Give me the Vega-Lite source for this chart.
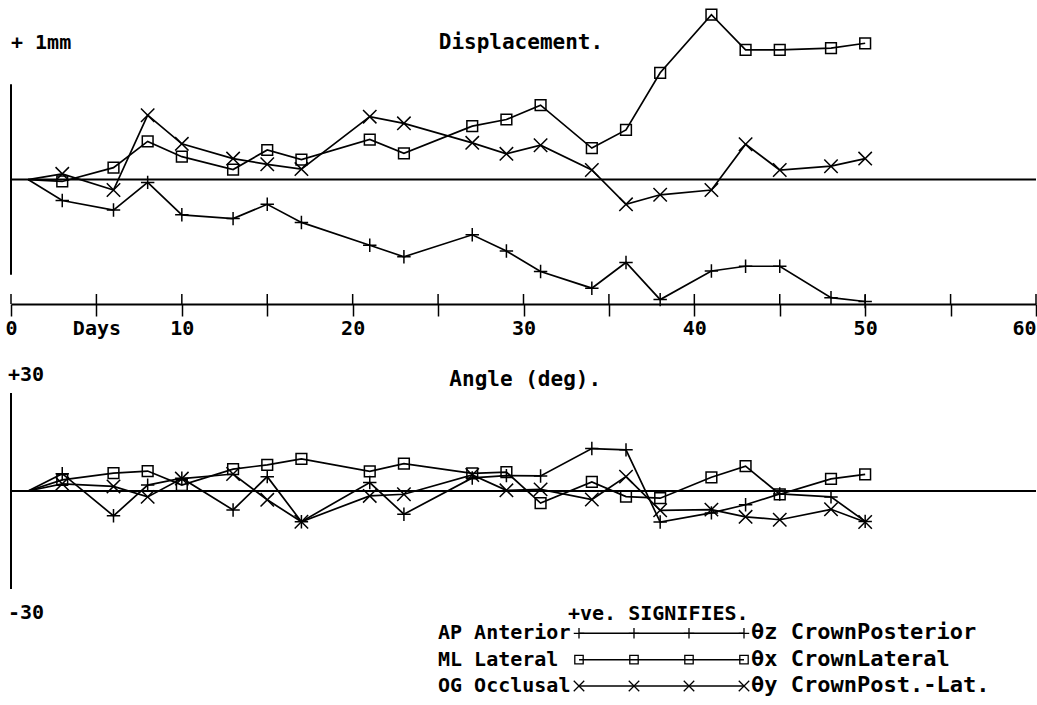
{
  "$schema": "https://vega.github.io/schema/vega-lite/v6.json",
  "background": "white",
  "padding": {"left": 4, "top": 4, "right": 0, "bottom": 5},
  "bounds": "flush",
  "spacing": 89,
  "config": {
    "view": {"stroke": null},
    "text": {"font": "DejaVu Sans Mono", "fontSize": 20, "fontWeight": "bold", "color": "black"}
  },
  "datasets": {
    "disp": [
      {"day": 1, "AP": 0, "ML": 0, "OG": 0},
      {"day": 3, "AP": -0.22, "ML": -0.02, "OG": 0.06},
      {"day": 6, "AP": -0.32, "ML": 0.125, "OG": -0.11},
      {"day": 8, "AP": -0.03, "ML": 0.40, "OG": 0.675},
      {"day": 10, "AP": -0.37, "ML": 0.24, "OG": 0.375},
      {"day": 13, "AP": -0.41, "ML": 0.105, "OG": 0.22},
      {"day": 15, "AP": -0.26, "ML": 0.31, "OG": 0.16},
      {"day": 17, "AP": -0.45, "ML": 0.21, "OG": 0.11},
      {"day": 21, "AP": -0.69, "ML": 0.42, "OG": 0.66},
      {"day": 23, "AP": -0.81, "ML": 0.275, "OG": 0.59},
      {"day": 27, "AP": -0.58, "ML": 0.56, "OG": 0.385},
      {"day": 29, "AP": -0.75, "ML": 0.63, "OG": 0.27},
      {"day": 31, "AP": -0.965, "ML": 0.78, "OG": 0.36},
      {"day": 34, "AP": -1.14, "ML": 0.33, "OG": 0.10},
      {"day": 36, "AP": -0.87, "ML": 0.52, "OG": -0.26},
      {"day": 38, "AP": -1.26, "ML": 1.12, "OG": -0.16},
      {"day": 41, "AP": -0.96, "ML": 1.73, "OG": -0.11},
      {"day": 43, "AP": -0.91, "ML": 1.36, "OG": 0.37},
      {"day": 45, "AP": -0.91, "ML": 1.36, "OG": 0.10},
      {"day": 48, "AP": -1.24, "ML": 1.38, "OG": 0.14},
      {"day": 50, "AP": -1.28, "ML": 1.43, "OG": 0.22}
    ],
    "angle": [
      {"day": 1, "AP": 0, "ML": 0, "OG": 0},
      {"day": 3, "AP": 5.3, "ML": 3.4, "OG": 2.2},
      {"day": 6, "AP": -7.6, "ML": 5.5, "OG": 1.4},
      {"day": 8, "AP": 1.8, "ML": 6.1, "OG": -1.8},
      {"day": 10, "AP": 3.9, "ML": 1.8, "OG": 3.8},
      {"day": 13, "AP": -5.8, "ML": 6.7, "OG": 5.2},
      {"day": 15, "AP": 4.4, "ML": 8.0, "OG": -2.7},
      {"day": 17, "AP": -9.4, "ML": 9.8, "OG": -9.4},
      {"day": 21, "AP": 2.6, "ML": 6.0, "OG": -1.5},
      {"day": 23, "AP": -7.1, "ML": 8.4, "OG": -1.0},
      {"day": 27, "AP": 4.0, "ML": 5.4, "OG": 4.9},
      {"day": 29, "AP": 4.7, "ML": 5.8, "OG": 0.2},
      {"day": 31, "AP": 4.6, "ML": -3.7, "OG": 0.5},
      {"day": 34, "AP": 13.0, "ML": 2.8, "OG": -2.6},
      {"day": 36, "AP": 12.6, "ML": -1.7, "OG": 4.4},
      {"day": 38, "AP": -9.5, "ML": -2.2, "OG": -5.9},
      {"day": 41, "AP": -6.7, "ML": 4.2, "OG": -5.7},
      {"day": 43, "AP": -4.2, "ML": 7.6, "OG": -7.9},
      {"day": 45, "AP": -0.9, "ML": -1.0, "OG": -8.8},
      {"day": 48, "AP": -1.8, "ML": 3.7, "OG": -5.6},
      {"day": 50, "AP": -9.3, "ML": 5.1, "OG": -9.5}
    ],
    "ticks": [
      {"t": 0}, {"t": 5}, {"t": 10}, {"t": 15}, {"t": 20}, {"t": 25}, {"t": 30},
      {"t": 35}, {"t": 40}, {"t": 45}, {"t": 50}, {"t": 55}, {"t": 60}
    ],
    "legendPts": [
      {"s": "AP", "row": 1, "k": 0}, {"s": "AP", "row": 1, "k": 1}, {"s": "AP", "row": 1, "k": 2}, {"s": "AP", "row": 1, "k": 3},
      {"s": "ML", "row": 2, "k": 0}, {"s": "ML", "row": 2, "k": 1}, {"s": "ML", "row": 2, "k": 2}, {"s": "ML", "row": 2, "k": 3},
      {"s": "OG", "row": 3, "k": 0}, {"s": "OG", "row": 3, "k": 1}, {"s": "OG", "row": 3, "k": 2}, {"s": "OG", "row": 3, "k": 3}
    ],
    "legendLabels": [
      {"row": 1, "left": "AP Anterior", "right": "θz CrownPosterior"},
      {"row": 2, "left": "ML Lateral", "right": "θx CrownLateral"},
      {"row": 3, "left": "OG Occlusal", "right": "θy CrownPost.-Lat."}
    ]
  },
  "vconcat": [
    {
      "width": 1025,
      "height": 300,
      "layer": [
        {
          "data": {"name": "disp"},
          "transform": [{"fold": ["AP", "ML", "OG"], "as": ["s", "v"]}],
          "mark": {"type": "line", "color": "black", "strokeWidth": 1.7},
          "encoding": {
            "x": {
              "field": "day", "type": "quantitative",
              "scale": {"domain": [0, 60], "nice": false, "zero": false},
              "axis": {
                "title": null,
                "values": [0, 5, 10, 15, 20, 25, 30, 35, 40, 45, 50, 55, 60],
                "labelExpr": "datum.value == 5 ? 'Days' : (datum.value % 10 == 0 ? datum.label : '')",
                "labelAlign": {"condition": {"test": "datum.value == 60", "value": "right"}, "value": "center"},
                "grid": false,
                "domainColor": "black", "domainWidth": 2,
                "tickColor": "black", "tickWidth": 1.5, "tickSize": 12,
                "labelFont": "DejaVu Sans Mono", "labelFontSize": 20, "labelFontWeight": "bold", "labelColor": "black",
                "labelPadding": 2, "labelOverlap": false, "labelFlush": false, "labelBound": false
              }
            },
            "y": {
              "field": "v", "type": "quantitative",
              "scale": {"domain": [-1.306, 1.842], "nice": false, "zero": false},
              "axis": null
            },
            "detail": {"field": "s"}
          }
        },
        {
          "data": {"name": "disp"},
          "transform": [{"fold": ["AP", "ML", "OG"], "as": ["s", "v"]}, {"filter": "datum.day > 1"}],
          "mark": {"type": "point", "filled": false, "color": "black", "strokeWidth": 1.5, "size": 180, "opacity": 1},
          "encoding": {
            "x": {"field": "day", "type": "quantitative", "scale": {"domain": [0, 60], "nice": false, "zero": false}},
            "y": {"field": "v", "type": "quantitative", "scale": {"domain": [-1.306, 1.842], "nice": false, "zero": false}, "axis": null},
            "shape": {
              "field": "s", "type": "nominal", "legend": null,
              "scale": {"domain": ["AP", "ML", "OG"], "range": ["M-1,0L1,0M0,-1L0,1", "M-0.8,-0.8L0.8,-0.8L0.8,0.8L-0.8,0.8Z", "M-1,-1L1,1M-1,1L1,-1"]}
            }
          }
        },
        {
          "data": {"values": [{}]},
          "mark": {"type": "rule", "color": "black", "strokeWidth": 2},
          "encoding": {
            "x": {"datum": 0, "type": "quantitative", "scale": {"domain": [0, 60], "nice": false, "zero": false}},
            "x2": {"datum": 60},
            "y": {"datum": 0, "type": "quantitative", "scale": {"domain": [-1.306, 1.842], "nice": false, "zero": false}, "axis": null}
          }
        },
        {
          "data": {"values": [{}]},
          "mark": {"type": "rule", "color": "black", "strokeWidth": 2},
          "encoding": {
            "x": {"datum": 0, "type": "quantitative", "scale": {"domain": [0, 60], "nice": false, "zero": false}},
            "y": {"datum": -1, "type": "quantitative", "scale": {"domain": [-1.306, 1.842], "nice": false, "zero": false}, "axis": null},
            "y2": {"datum": 1}
          }
        },
        {
          "data": {"name": "ticks"},
          "mark": {"type": "rule", "color": "black", "strokeWidth": 1.5},
          "encoding": {
            "x": {"field": "t", "type": "quantitative", "scale": {"domain": [0, 60], "nice": false, "zero": false}},
            "y": {"datum": -1.306, "type": "quantitative", "scale": {"domain": [-1.306, 1.842], "nice": false, "zero": false}, "axis": null},
            "y2": {"datum": -1.201}
          }
        },
        {
          "data": {"values": [{}]},
          "mark": {"type": "text", "text": "Displacement.", "align": "center", "baseline": "alphabetic", "font": "DejaVu Sans Mono", "fontSize": 21, "fontWeight": "bold", "color": "black"},
          "encoding": {
            "x": {"datum": 29.85, "type": "quantitative", "scale": {"domain": [0, 60], "nice": false, "zero": false}},
            "y": {"datum": 1.37, "type": "quantitative", "scale": {"domain": [-1.306, 1.842], "nice": false, "zero": false}, "axis": null}
          }
        },
        {
          "data": {"values": [{}]},
          "mark": {"type": "text", "text": "+ 1mm", "align": "left", "baseline": "alphabetic", "font": "DejaVu Sans Mono", "fontSize": 20, "fontWeight": "bold", "color": "black"},
          "encoding": {
            "x": {"datum": 0, "type": "quantitative", "scale": {"domain": [0, 60], "nice": false, "zero": false}},
            "y": {"datum": 1.37, "type": "quantitative", "scale": {"domain": [-1.306, 1.842], "nice": false, "zero": false}, "axis": null}
          }
        }
      ]
    },
    {
      "bounds": "flush",
      "spacing": 11,
      "vconcat": [
        {
          "width": 1025,
          "height": 196,
          "layer": [
            {
              "data": {"name": "angle"},
              "transform": [{"fold": ["AP", "ML", "OG"], "as": ["s", "v"]}],
              "mark": {"type": "line", "color": "black", "strokeWidth": 1.7},
              "encoding": {
                "x": {"field": "day", "type": "quantitative", "scale": {"domain": [0, 60], "nice": false, "zero": false}, "axis": null},
                "y": {"field": "v", "type": "quantitative", "scale": {"domain": [-30, 30], "nice": false, "zero": false}, "axis": null},
                "detail": {"field": "s"}
              }
            },
            {
              "data": {"name": "angle"},
              "transform": [{"fold": ["AP", "ML", "OG"], "as": ["s", "v"]}, {"filter": "datum.day > 1"}],
              "mark": {"type": "point", "filled": false, "color": "black", "strokeWidth": 1.5, "size": 180, "opacity": 1},
              "encoding": {
                "x": {"field": "day", "type": "quantitative", "scale": {"domain": [0, 60], "nice": false, "zero": false}, "axis": null},
                "y": {"field": "v", "type": "quantitative", "scale": {"domain": [-30, 30], "nice": false, "zero": false}, "axis": null},
                "shape": {
                  "field": "s", "type": "nominal", "legend": null,
                  "scale": {"domain": ["AP", "ML", "OG"], "range": ["M-1,0L1,0M0,-1L0,1", "M-0.8,-0.8L0.8,-0.8L0.8,0.8L-0.8,0.8Z", "M-1,-1L1,1M-1,1L1,-1"]}
                }
              }
            },
            {
              "data": {"values": [{}]},
              "mark": {"type": "rule", "color": "black", "strokeWidth": 2},
              "encoding": {
                "x": {"datum": 0, "type": "quantitative", "scale": {"domain": [0, 60], "nice": false, "zero": false}, "axis": null},
                "x2": {"datum": 60},
                "y": {"datum": 0, "type": "quantitative", "scale": {"domain": [-30, 30], "nice": false, "zero": false}, "axis": null}
              }
            },
            {
              "data": {"values": [{}]},
              "mark": {"type": "rule", "color": "black", "strokeWidth": 2},
              "encoding": {
                "x": {"datum": 0, "type": "quantitative", "scale": {"domain": [0, 60], "nice": false, "zero": false}, "axis": null},
                "y": {"datum": -30, "type": "quantitative", "scale": {"domain": [-30, 30], "nice": false, "zero": false}, "axis": null},
                "y2": {"datum": 30}
              }
            },
            {
              "data": {"values": [{}]},
              "mark": {"type": "text", "text": "Angle (deg).", "align": "center", "baseline": "alphabetic", "font": "DejaVu Sans Mono", "fontSize": 21, "fontWeight": "bold", "color": "black"},
              "encoding": {
                "x": {"datum": 30.1, "type": "quantitative", "scale": {"domain": [0, 60], "nice": false, "zero": false}, "axis": null},
                "y": {"datum": 32.0, "type": "quantitative", "scale": {"domain": [-30, 30], "nice": false, "zero": false}, "axis": null}
              }
            },
            {
              "data": {"values": [{}]},
              "mark": {"type": "text", "text": "+30", "align": "left", "baseline": "alphabetic", "font": "DejaVu Sans Mono", "fontSize": 20, "fontWeight": "bold", "color": "black"},
              "encoding": {
                "x": {"datum": -0.18, "type": "quantitative", "scale": {"domain": [0, 60], "nice": false, "zero": false}, "axis": null},
                "y": {"datum": 33.7, "type": "quantitative", "scale": {"domain": [-30, 30], "nice": false, "zero": false}, "axis": null}
              }
            },
            {
              "data": {"values": [{}]},
              "mark": {"type": "text", "text": "-30", "align": "left", "baseline": "alphabetic", "font": "DejaVu Sans Mono", "fontSize": 20, "fontWeight": "bold", "color": "black"},
              "encoding": {
                "x": {"datum": -0.18, "type": "quantitative", "scale": {"domain": [0, 60], "nice": false, "zero": false}, "axis": null},
                "y": {"datum": -39.2, "type": "quantitative", "scale": {"domain": [-30, 30], "nice": false, "zero": false}, "axis": null}
              }
            }
          ]
        },
        {
          "width": 1025,
          "height": 95,
          "layer": [
            {
              "data": {"name": "legendPts"},
              "mark": {"type": "line", "color": "black", "strokeWidth": 1.5},
              "encoding": {
                "x": {"field": "k", "type": "quantitative", "scale": {"domain": [-10.327, 8.309], "nice": false, "zero": false}, "axis": null},
                "y": {"field": "row", "type": "quantitative", "scale": {"domain": [-0.264, 3.341], "nice": false, "zero": false, "reverse": true}, "axis": null},
                "detail": {"field": "s"}
              }
            },
            {
              "data": {"name": "legendPts"},
              "mark": {"type": "point", "filled": false, "color": "black", "strokeWidth": 1.3, "size": 110, "opacity": 1},
              "encoding": {
                "x": {"field": "k", "type": "quantitative", "scale": {"domain": [-10.327, 8.309], "nice": false, "zero": false}, "axis": null},
                "y": {"field": "row", "type": "quantitative", "scale": {"domain": [-0.264, 3.341], "nice": false, "zero": false, "reverse": true}, "axis": null},
                "shape": {
                  "field": "s", "type": "nominal", "legend": null,
                  "scale": {"domain": ["AP", "ML", "OG"], "range": ["M-1,0L1,0M0,-1L0,1", "M-0.8,-0.8L0.8,-0.8L0.8,0.8L-0.8,0.8Z", "M-1,-1L1,1M-1,1L1,-1"]}
                }
              }
            },
            {
              "data": {"name": "legendLabels"},
              "mark": {"type": "text", "align": "left", "baseline": "alphabetic", "dy": 6, "font": "DejaVu Sans Mono", "fontSize": 20, "fontWeight": "bold", "color": "black"},
              "encoding": {
                "x": {"datum": -2.564, "type": "quantitative", "scale": {"domain": [-10.327, 8.309], "nice": false, "zero": false}, "axis": null},
                "y": {"field": "row", "type": "quantitative", "scale": {"domain": [-0.264, 3.341], "nice": false, "zero": false, "reverse": true}, "axis": null},
                "text": {"field": "left"}
              }
            },
            {
              "data": {"name": "legendLabels"},
              "mark": {"type": "text", "align": "left", "baseline": "alphabetic", "dy": 6, "font": "DejaVu Sans Mono", "fontSize": 22, "fontWeight": "bold", "color": "black"},
              "encoding": {
                "x": {"datum": 3.127, "type": "quantitative", "scale": {"domain": [-10.327, 8.309], "nice": false, "zero": false}, "axis": null},
                "y": {"field": "row", "type": "quantitative", "scale": {"domain": [-0.264, 3.341], "nice": false, "zero": false, "reverse": true}, "axis": null},
                "text": {"field": "right"}
              }
            },
            {
              "data": {"values": [{}]},
              "mark": {"type": "text", "text": "+ve. SIGNIFIES.", "align": "left", "baseline": "alphabetic", "dy": 6, "font": "DejaVu Sans Mono", "fontSize": 20, "fontWeight": "bold", "color": "black"},
              "encoding": {
                "x": {"datum": -0.2, "type": "quantitative", "scale": {"domain": [-10.327, 8.309], "nice": false, "zero": false}, "axis": null},
                "y": {"datum": 0.267, "type": "quantitative", "scale": {"domain": [-0.264, 3.341], "nice": false, "zero": false, "reverse": true}, "axis": null}
              }
            }
          ]
        }
      ]
    }
  ]
}
